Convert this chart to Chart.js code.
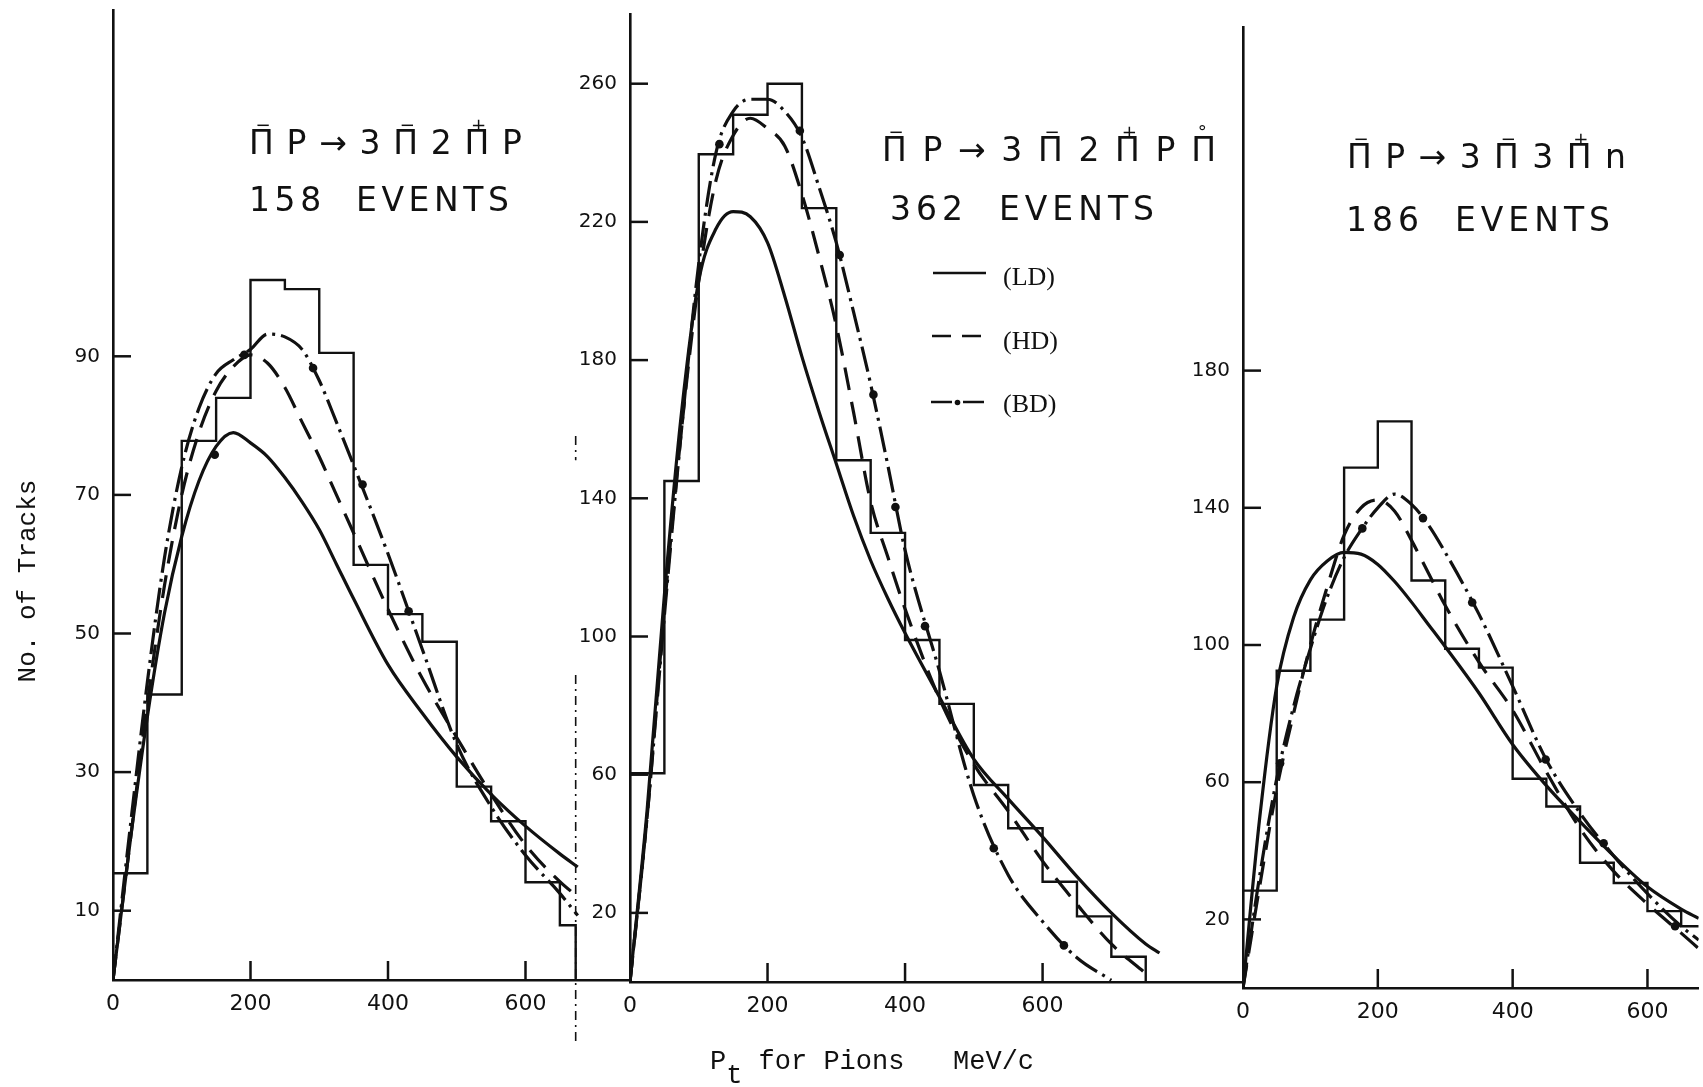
<!DOCTYPE html>
<html>
<head>
<meta charset="utf-8">
<title>Pt for Pions</title>
<script src="https://cdn.jsdelivr.net/npm/chart.js@4.4.1/dist/chart.umd.min.js"></script>
<style>
  html, body { margin: 0; padding: 0; background: #fff; }
  #wrap { position: relative; width: 1703px; height: 1087px; overflow: hidden; background: #fff; }
  canvas { position: absolute; left: 0; top: 0; }
  .ttl { position: absolute; white-space: pre; font-family: "DejaVu Sans", Lato, sans-serif; font-weight: 400;
         font-size: 33px; line-height: 34px; color: #111; z-index: 5; }
  .pi { position: relative; }
  .sp { position: absolute; left: 0.36em; top: -0.40em; font-size: 0.55em; line-height: 1; letter-spacing: 0; }
  .leg { position: absolute; white-space: pre; font-family: "Liberation Serif", "DejaVu Serif", serif; font-size: 26px; line-height: 26px; color: #111; z-index: 5; }
  #xt { position: absolute; left: 710px; top: 1049px; white-space: pre; font-family: "Liberation Mono", "DejaVu Sans Mono", monospace;
        font-size: 27px; line-height: 27px; color: #111; z-index: 5; }
  #xt .sub { position: relative; top: 14px; }
  #yt { position: absolute; left: 28px; top: 581px; white-space: pre; font-family: "Liberation Mono", "DejaVu Sans Mono", monospace;
        font-size: 26px; line-height: 26px; color: #111; transform: translate(-50%, -50%) rotate(-90deg); z-index: 5; }
  svg { position: absolute; left: 0; top: 0; z-index: 4; }
</style>
</head>
<body>
<div id="wrap">
  <canvas id="c1" width="1703" height="1087"></canvas>
  <canvas id="c2" width="1703" height="1087"></canvas>
  <canvas id="c3" width="1703" height="1087"></canvas>

  <div class="ttl" data-w="273" style="left:249px;top:126px"><span class="pi">Π<span class="sp">−</span></span>P→3<span class="pi">Π<span class="sp">−</span></span>2<span class="pi">Π<span class="sp">+</span></span>P</div>
  <div class="ttl" data-w="260" style="left:249px;top:183px">158  EVENTS</div>

  <div class="ttl" data-w="334" style="left:882px;top:133px"><span class="pi">Π<span class="sp">−</span></span>P→3<span class="pi">Π<span class="sp">−</span></span>2<span class="pi">Π<span class="sp">+</span></span>P<span class="pi">Π<span class="sp">°</span></span></div>
  <div class="ttl" data-w="264" style="left:890px;top:192px">362  EVENTS</div>

  <div class="ttl" data-w="279" style="left:1347px;top:140px"><span class="pi">Π<span class="sp">−</span></span>P→3<span class="pi">Π<span class="sp">−</span></span>3<span class="pi">Π<span class="sp">+</span></span>n</div>
  <div class="ttl" data-w="264" style="left:1346px;top:203px">186  EVENTS</div>

  <svg width="1703" height="1087">
    <line x1="933" y1="273" x2="986" y2="273" stroke="#111" stroke-width="2.5"/>
    <line x1="932" y1="336" x2="982" y2="336" stroke="#111" stroke-width="2.5" stroke-dasharray="19 11"/>
    <line x1="931" y1="402" x2="952" y2="402" stroke="#111" stroke-width="2.5"/>
    <circle cx="957.5" cy="402.5" r="2.8" fill="#111"/>
    <line x1="963" y1="402" x2="984" y2="402" stroke="#111" stroke-width="2.5"/>
  </svg>
  <div class="leg" style="left:1003px;top:264px">(LD)</div>
  <div class="leg" style="left:1003px;top:328px">(HD)</div>
  <div class="leg" style="left:1003px;top:391px">(BD)</div>

  <div id="xt">P<span class="sub">t</span> for Pions   MeV/c</div>
  <div id="yt">No. of Tracks</div>
</div>

<script>
// ======================= DATA =======================
const xTickValues = [0, 200, 400, 600];

// ---- Panel 1 : pi- p -> 3pi- 2pi+ p (158 events) ----
const p1YTicks = [10, 30, 50, 70, 90];
const p1Edges  = [0, 50, 100, 150, 200, 250, 300, 350, 400, 450, 500, 550, 600, 650, 673];
const p1Counts = [15.4, 41.2, 77.8, 84, 101, 99.7, 90.5, 59.9, 52.8, 48.8, 27.9, 22.9, 14.1, 7.9];
const p1X  = [0, 25, 50, 75, 100, 125, 150, 175, 200, 225, 250, 275, 300, 325, 350, 400, 450, 500, 550, 600, 650, 676];
const p1LD = [0, 20, 38, 53, 64, 72, 77, 79, 77.5, 75.5, 72.5, 69, 65, 60, 55, 45.5, 38.5, 32.2, 26.8, 22.2, 18.2, 16.3];
const p1HD = [0, 20, 40, 57, 70, 79, 85, 88.5, 90.2, 89, 85.5, 80.5, 75.5, 70, 64.5, 53.5, 43.5, 35, 26.8, 19.5, 14.2, 12];
const p1BD = [0, 22, 43, 61, 74, 82.5, 87.5, 89.5, 91, 93.2, 92.8, 91, 86.5, 80.5, 74.3, 61.5, 47.7, 34, 25, 18, 12.5, 9.3];
const p1DotX = [148, 191, 291, 363, 430];
const p1DotY = [75.8, 90.2, 88.3, 71.5, 53.2];
const p1DivX = [673, 673, 673, 673, 673];
const p1DivY = [78.5, 75, null, 44, -9];

// ---- Panel 2 : pi- p -> 3pi- 2pi+ p pi0 (362 events) ----
const p2YTicks = [20, 60, 100, 140, 180, 220, 260];
const p2Edges  = [0, 50, 100, 150, 200, 250, 300, 350, 400, 450, 500, 550, 600, 650, 700, 750];
const p2Counts = [60.4, 145, 239.6, 251, 260, 224, 151, 130, 99, 80.5, 57, 44.5, 29, 19, 7.3];
const p2X  = [0, 25, 50, 75, 100, 125, 150, 175, 200, 225, 250, 275, 300, 325, 350, 375, 400, 450, 500, 550, 600, 650, 700, 750, 770];
const p2LD = [0, 50, 112, 165, 203, 218, 223, 221.5, 214, 198.5, 181, 165, 150, 135, 122, 111, 101, 82.5, 64.5, 53, 42, 30.5, 20, 11, 8.4];
const p2HD = [0, 48, 108, 160, 203, 232, 245, 250, 247, 242, 228, 210, 190, 165, 139, 123, 108, 82, 63, 49.5, 35, 22.5, 11, 2.5, null];
const p2BD = [0, 48, 106, 160, 208, 240, 252, 255.5, 255.5, 252, 244.5, 230, 214, 194, 173, 149.5, 125, 90, 54, 31, 17.5, 7, 0.5, null, null];
const p2DotX = [130, 247, 305, 354, 386, 429, 529, 631];
const p2DotY = [242.5, 246.4, 210.4, 170, 137.5, 103, 38.7, 10.6];

// ---- Panel 3 : pi- p -> 3pi- 3pi+ n (186 events) ----
const p3YTicks = [20, 60, 100, 140, 180];
const p3Edges  = [0, 50, 100, 150, 200, 250, 300, 350, 400, 450, 500, 550, 600, 650, 676];
const p3Counts = [28.4, 92.5, 107.4, 151.7, 165.2, 118.8, 98.9, 93.4, 61, 52.9, 36.5, 30.6, 22.4, 18];
const p3X  = [0, 25, 50, 75, 100, 125, 150, 175, 200, 225, 250, 275, 300, 350, 400, 450, 500, 550, 600, 650, 676];
const p3LD = [0, 50, 88, 108, 119, 124.5, 127, 126.5, 123.5, 118.5, 112.5, 106, 99.5, 86, 71, 59, 48.5, 38.5, 29.5, 23, 20.3];
const p3HD = [0, 30, 58, 80, 100, 117, 132, 140, 142.3, 139, 130.5, 121, 111.5, 95, 81, 63, 46.5, 34, 24.5, 16, 11.5];
const p3BD = [0, 33, 61, 82, 99, 114, 125.5, 133.5, 140, 144, 141, 135, 127, 109, 88, 66.5, 51, 38.5, 27.5, 18, 14];
const p3DotX = [55, 177, 267, 340, 449, 535, 641];
const p3DotY = [65.5, 134, 137, 112.4, 66.6, 42.2, 18];

// ======================= LAYOUT / STYLE =======================
const INK = '#111';
const CW = 1703, CH = 1087, Y_W = 60, X_H = 50;
Chart.defaults.font.family = '"DejaVu Sans", sans-serif';
Chart.defaults.color = INK;

const inwardTicks = {
  id: 'inwardTicks',
  afterDatasetsDraw(chart, args, o) {
    const { ctx, chartArea: a, scales: { x, y } } = chart;
    ctx.save();
    ctx.strokeStyle = INK; ctx.lineWidth = 2.5; ctx.lineCap = 'butt';
    o.y.forEach(v => {
      const py = y.getPixelForValue(v);
      ctx.beginPath(); ctx.moveTo(a.left, py); ctx.lineTo(a.left + 18, py); ctx.stroke();
    });
    o.x.forEach(v => {
      if (v <= x.min) return;
      const px = x.getPixelForValue(v);
      ctx.beginPath(); ctx.moveTo(px, a.bottom); ctx.lineTo(px, a.bottom - 19); ctx.stroke();
    });
    ctx.restore();
  }
};

function pairs(xs, ys) { return xs.map((x, i) => ({ x: x, y: ys[i] })); }

function histPoints(edges, counts, close) {
  const pts = counts.map((c, i) => ({ x: edges[i], y: c }));
  pts.push({ x: edges[edges.length - 1], y: counts[counts.length - 1] });
  if (close) pts.push({ x: edges[edges.length - 1], y: 0 });
  return pts;
}

function makePanel(id, geo, d) {
  const curve = { borderColor: INK, borderWidth: 3.2, pointRadius: 0, fill: false, cubicInterpolationMode: 'monotone' };
  const datasets = [
    { label: 'data', data: histPoints(d.edges, d.counts, d.close), stepped: 'before', borderColor: INK, borderWidth: 2.4, pointRadius: 0, fill: false },
    Object.assign({ label: 'LD', data: pairs(d.x, d.ld) }, curve),
    Object.assign({ label: 'HD', data: pairs(d.x, d.hd), borderDash: [23, 12] }, curve),
    Object.assign({ label: 'BD', data: pairs(d.x, d.bd), borderDash: [26, 6, 3, 6] }, curve),
    { label: 'BD points', data: pairs(d.dotX, d.dotY), showLine: false, pointRadius: 4.3, pointBackgroundColor: INK, pointBorderWidth: 0 }
  ];
  if (d.divX) {
    datasets.push({ label: 'divider', data: pairs(d.divX, d.divY), borderColor: INK, borderWidth: 1.6,
                    borderDash: [9, 5, 2, 5], pointRadius: 0, clip: false, spanGaps: false });
  }
  return new Chart(document.getElementById(id), {
    type: 'line',
    data: { datasets: datasets },
    plugins: [inwardTicks],
    options: {
      responsive: false, animation: false, devicePixelRatio: 1,
      layout: { padding: { left: geo.left - Y_W, right: CW - geo.right, top: geo.top, bottom: CH - geo.bottom - X_H } },
      plugins: { legend: { display: false }, tooltip: { enabled: false }, inwardTicks: { x: xTickValues, y: d.yTicks } },
      scales: {
        x: {
          type: 'linear', min: 0, max: geo.xMax,
          afterBuildTicks: s => { s.ticks = xTickValues.map(v => ({ value: v })); },
          afterFit: s => { s.height = X_H; s.paddingLeft = 0; s.paddingRight = 0; },
          grid: { display: false, drawTicks: false },
          border: { display: true, color: INK, width: 2.6 },
          ticks: { autoSkip: false, maxRotation: 0, padding: 11, color: INK, font: { size: 22 } }
        },
        y: {
          type: 'linear', min: 0, max: geo.yMax,
          afterBuildTicks: s => { s.ticks = d.yTicks.map(v => ({ value: v })); },
          afterFit: s => { s.width = Y_W; s.paddingTop = 0; s.paddingBottom = 0; },
          grid: { display: false, drawTicks: false },
          border: { display: true, color: INK, width: 2.6 },
          ticks: { autoSkip: false, padding: 13, color: INK, font: { size: 20 } }
        }
      }
    }
  });
}

makePanel('c1', { left: 113, right: 630, top: 9.8, bottom: 980, xMax: 752, yMax: 140 },
  { edges: p1Edges, counts: p1Counts, close: true, x: p1X, ld: p1LD, hd: p1HD, bd: p1BD,
    dotX: p1DotX, dotY: p1DotY, yTicks: p1YTicks, divX: p1DivX, divY: p1DivY });
makePanel('c2', { left: 630, right: 1242, top: 14.6, bottom: 982, xMax: 890, yMax: 280 },
  { edges: p2Edges, counts: p2Counts, close: true, x: p2X, ld: p2LD, hd: p2HD, bd: p2BD,
    dotX: p2DotX, dotY: p2DotY, yTicks: p2YTicks });
makePanel('c3', { left: 1243, right: 1703, top: 27.6, bottom: 988, xMax: 676, yMax: 280 },
  { edges: p3Edges, counts: p3Counts, close: false, x: p3X, ld: p3LD, hd: p3HD, bd: p3BD,
    dotX: p3DotX, dotY: p3DotY, yTicks: p3YTicks });

// ---- fit title widths (letter spacing) ----
function countChars(el) {
  let n = 0; const w = document.createTreeWalker(el, NodeFilter.SHOW_TEXT); let t;
  while ((t = w.nextNode())) { if (t.parentElement.closest('.sp')) continue; n += Array.from(t.textContent).length; }
  return n;
}
function fitTitles() {
  document.querySelectorAll('.ttl').forEach(el => {
    const target = +el.dataset.w;
    el.style.letterSpacing = '0px';
    const w = el.getBoundingClientRect().width;
    const n = countChars(el);
    if (n > 1) el.style.letterSpacing = ((target - w) / (n - 1)) + 'px';
  });
}
fitTitles();
if (document.fonts && document.fonts.ready) document.fonts.ready.then(fitTitles);
</script>
</body>
</html>
